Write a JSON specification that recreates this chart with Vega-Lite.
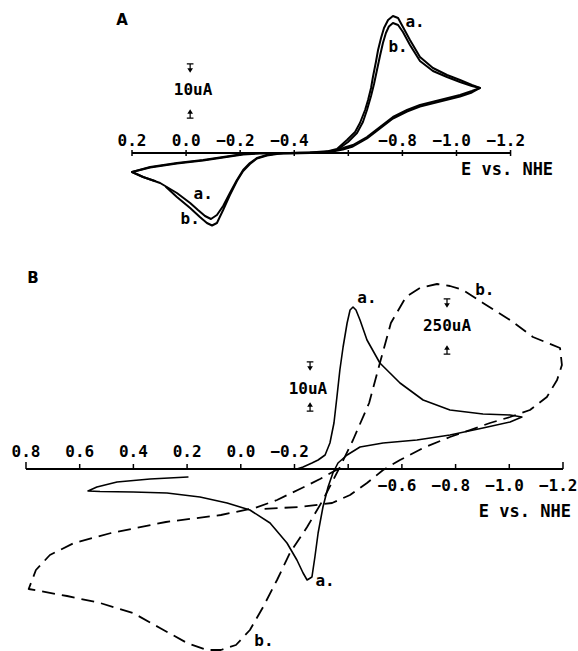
{
"$schema": "https://vega.github.io/schema/vega-lite/v6.json",
"width": 578, "height": 651, "autosize": {"type": "none"}, "padding": 0,
"background": "white",
"config": {"view": {"stroke": null}},
"datasets": {
"Acurve": [
{"c":"a","k":1,"E":-0.421,"I":0},{"c":"a","k":2,"E":-0.514,"I":0.2},{"c":"a","k":3,"E":-0.558,"I":0.8},{"c":"a","k":4,"E":-0.595,"I":2.6},{"c":"a","k":5,"E":-0.625,"I":4.2},{"c":"a","k":6,"E":-0.643,"I":6.0},{"c":"a","k":7,"E":-0.662,"I":8.6},{"c":"a","k":8,"E":-0.673,"I":10.6},{"c":"a","k":9,"E":-0.684,"I":13.0},{"c":"a","k":10,"E":-0.691,"I":15.2},{"c":"a","k":11,"E":-0.702,"I":18.2},{"c":"a","k":12,"E":-0.710,"I":20.6},{"c":"a","k":13,"E":-0.721,"I":23.0},{"c":"a","k":14,"E":-0.732,"I":25.0},{"c":"a","k":15,"E":-0.747,"I":26.6},{"c":"a","k":16,"E":-0.765,"I":27.4},{"c":"a","k":17,"E":-0.784,"I":27.0},{"c":"a","k":18,"E":-0.802,"I":25.2},{"c":"a","k":19,"E":-0.828,"I":22.6},{"c":"a","k":20,"E":-0.865,"I":19.2},{"c":"a","k":21,"E":-0.913,"I":17.0},{"c":"a","k":22,"E":-0.965,"I":15.6},{"c":"a","k":23,"E":-1.013,"I":14.6},{"c":"a","k":24,"E":-1.057,"I":13.6},{"c":"a","k":25,"E":-1.087,"I":13.0},{"c":"a","k":26,"E":-1.057,"I":12.4},{"c":"a","k":27,"E":-1.013,"I":11.6},{"c":"a","k":28,"E":-0.939,"I":10.6},{"c":"a","k":29,"E":-0.865,"I":9.6},{"c":"a","k":30,"E":-0.817,"I":8.6},{"c":"a","k":31,"E":-0.765,"I":7.2},{"c":"a","k":32,"E":-0.717,"I":5.2},{"c":"a","k":33,"E":-0.669,"I":3.2},{"c":"a","k":34,"E":-0.617,"I":1.6},{"c":"a","k":35,"E":-0.580,"I":1.0},{"c":"a","k":36,"E":-0.532,"I":0.4},{"c":"a","k":37,"E":-0.458,"I":0.1},{"c":"a","k":38,"E":-0.384,"I":0},{"c":"a","k":39,"E":-0.336,"I":-0.1},{"c":"a","k":40,"E":-0.299,"I":-0.4},{"c":"a","k":41,"E":-0.262,"I":-1.0},{"c":"a","k":42,"E":-0.236,"I":-2.0},{"c":"a","k":43,"E":-0.211,"I":-3.4},{"c":"a","k":44,"E":-0.188,"I":-5.4},{"c":"a","k":45,"E":-0.162,"I":-8.0},{"c":"a","k":46,"E":-0.137,"I":-10.6},{"c":"a","k":47,"E":-0.114,"I":-12.4},{"c":"a","k":48,"E":-0.092,"I":-13.2},{"c":"a","k":49,"E":-0.070,"I":-12.6},{"c":"a","k":50,"E":-0.044,"I":-11.4},{"c":"a","k":51,"E":-0.015,"I":-10.0},{"c":"a","k":52,"E":0.034,"I":-8.0},{"c":"a","k":53,"E":0.096,"I":-6.0},{"c":"a","k":54,"E":0.159,"I":-4.8},{"c":"a","k":55,"E":0.200,"I":-3.8},{"c":"a","k":56,"E":0.133,"I":-2.8},{"c":"a","k":57,"E":0.034,"I":-2.0},{"c":"a","k":58,"E":-0.063,"I":-1.4},{"c":"a","k":59,"E":-0.137,"I":-0.8},{"c":"a","k":60,"E":-0.211,"I":-0.2},{"c":"a","k":61,"E":-0.273,"I":0},{"c":"a","k":62,"E":-0.421,"I":0},
{"c":"b","k":1,"E":0.074,"I":-6.8},{"c":"b","k":2,"E":0.034,"I":-8.8},{"c":"b","k":3,"E":-0.015,"I":-11.0},{"c":"b","k":4,"E":-0.051,"I":-12.8},{"c":"b","k":5,"E":-0.077,"I":-14.0},{"c":"b","k":6,"E":-0.096,"I":-14.5},{"c":"b","k":7,"E":-0.114,"I":-14.0},{"c":"b","k":8,"E":-0.137,"I":-11.4},{"c":"b","k":9,"E":-0.162,"I":-8.4},{"c":"b","k":10,"E":-0.188,"I":-5.6},{"c":"b","k":11,"E":-0.211,"I":-3.6},{"c":"b","k":12,"E":-0.236,"I":-2.2},{"c":"b","k":13,"E":-0.262,"I":-1.1},{"c":"b","k":14,"E":-0.299,"I":-0.5},{"c":"b","k":15,"E":-0.336,"I":-0.2},{"c":"b","k":16,"E":-0.384,"I":0},{"c":"b","k":17,"E":-0.458,"I":0.1},{"c":"b","k":18,"E":-0.514,"I":0.2},{"c":"b","k":19,"E":-0.558,"I":0.6},{"c":"b","k":20,"E":-0.599,"I":2.2},{"c":"b","k":21,"E":-0.632,"I":4.0},{"c":"b","k":22,"E":-0.654,"I":6.2},{"c":"b","k":23,"E":-0.669,"I":8.6},{"c":"b","k":24,"E":-0.684,"I":11.4},{"c":"b","k":25,"E":-0.695,"I":13.8},{"c":"b","k":26,"E":-0.706,"I":16.6},{"c":"b","k":27,"E":-0.717,"I":19.4},{"c":"b","k":28,"E":-0.728,"I":22.0},{"c":"b","k":29,"E":-0.739,"I":24.0},{"c":"b","k":30,"E":-0.750,"I":25.3},{"c":"b","k":31,"E":-0.765,"I":26.0},{"c":"b","k":32,"E":-0.784,"I":25.6},{"c":"b","k":33,"E":-0.802,"I":24.2},{"c":"b","k":34,"E":-0.828,"I":21.6},{"c":"b","k":35,"E":-0.865,"I":18.4},{"c":"b","k":36,"E":-0.913,"I":16.4},{"c":"b","k":37,"E":-0.965,"I":15.2},{"c":"b","k":38,"E":-1.013,"I":14.2},{"c":"b","k":39,"E":-1.057,"I":13.4},{"c":"b","k":40,"E":-1.087,"I":13.0},{"c":"b","k":41,"E":-1.057,"I":12.1},{"c":"b","k":42,"E":-1.013,"I":11.3},{"c":"b","k":43,"E":-0.939,"I":10.3},{"c":"b","k":44,"E":-0.865,"I":9.3},{"c":"b","k":45,"E":-0.817,"I":8.3},{"c":"b","k":46,"E":-0.765,"I":6.9},{"c":"b","k":47,"E":-0.717,"I":4.9},{"c":"b","k":48,"E":-0.669,"I":2.9},{"c":"b","k":49,"E":-0.617,"I":1.3},{"c":"b","k":50,"E":-0.580,"I":0.7},{"c":"b","k":51,"E":-0.532,"I":0.2},{"c":"b","k":52,"E":-0.458,"I":0},{"c":"b","k":53,"E":-0.384,"I":-0.1},{"c":"b","k":54,"E":-0.273,"I":-0.1},{"c":"b","k":55,"E":-0.211,"I":-0.3},{"c":"b","k":56,"E":-0.137,"I":-0.9},{"c":"b","k":57,"E":-0.063,"I":-1.5},{"c":"b","k":58,"E":0.034,"I":-2.1},{"c":"b","k":59,"E":0.133,"I":-2.9},{"c":"b","k":60,"E":0.200,"I":-3.8},{"c":"b","k":61,"E":0.159,"I":-4.8},{"c":"b","k":62,"E":0.115,"I":-5.6}
],
"Bcurve": [
{"c":"a","k":1,"E":0.197,"I":-1.6},{"c":"a","k":2,"E":0.338,"I":-2.0},{"c":"a","k":3,"E":0.461,"I":-2.6},{"c":"a","k":4,"E":0.536,"I":-3.6},{"c":"a","k":5,"E":0.569,"I":-4.4},{"c":"a","k":6,"E":0.524,"I":-4.5},{"c":"a","k":7,"E":0.401,"I":-4.6},{"c":"a","k":8,"E":0.275,"I":-4.8},{"c":"a","k":9,"E":0.152,"I":-5.6},{"c":"a","k":10,"E":0.051,"I":-6.8},{"c":"a","k":11,"E":-0.034,"I":-8.2},{"c":"a","k":12,"E":-0.109,"I":-10.8},{"c":"a","k":13,"E":-0.172,"I":-14.8},{"c":"a","k":14,"E":-0.209,"I":-18.2},{"c":"a","k":15,"E":-0.232,"I":-20.8},{"c":"a","k":16,"E":-0.247,"I":-22.2},{"c":"a","k":17,"E":-0.265,"I":-21.6},{"c":"a","k":18,"E":-0.276,"I":-17.6},{"c":"a","k":19,"E":-0.288,"I":-12.8},{"c":"a","k":20,"E":-0.306,"I":-7.6},{"c":"a","k":21,"E":-0.325,"I":-3.6},{"c":"a","k":22,"E":-0.343,"I":-0.8},{"c":"a","k":23,"E":-0.362,"I":1.2},{"c":"a","k":24,"E":-0.396,"I":2.8},{"c":"a","k":25,"E":-0.444,"I":4.4},{"c":"a","k":26,"E":-0.530,"I":5.2},{"c":"a","k":27,"E":-0.656,"I":5.8},{"c":"a","k":28,"E":-0.779,"I":6.8},{"c":"a","k":29,"E":-0.902,"I":8.2},{"c":"a","k":30,"E":-1.003,"I":9.4},{"c":"a","k":31,"E":-1.047,"I":10.4},{"c":"a","k":32,"E":-1.003,"I":10.8},{"c":"a","k":33,"E":-0.902,"I":11.0},{"c":"a","k":34,"E":-0.779,"I":11.8},{"c":"a","k":35,"E":-0.679,"I":13.8},{"c":"a","k":36,"E":-0.593,"I":17.2},{"c":"a","k":37,"E":-0.518,"I":21.2},{"c":"a","k":38,"E":-0.470,"I":25.8},{"c":"a","k":39,"E":-0.444,"I":29.8},{"c":"a","k":40,"E":-0.429,"I":31.8},{"c":"a","k":41,"E":-0.418,"I":32.4},{"c":"a","k":42,"E":-0.407,"I":31.8},{"c":"a","k":43,"E":-0.396,"I":29.2},{"c":"a","k":44,"E":-0.381,"I":24.4},{"c":"a","k":45,"E":-0.369,"I":19.8},{"c":"a","k":46,"E":-0.358,"I":14.4},{"c":"a","k":47,"E":-0.347,"I":9.2},{"c":"a","k":48,"E":-0.332,"I":5.2},{"c":"a","k":49,"E":-0.314,"I":2.8},{"c":"a","k":50,"E":-0.288,"I":1.8},{"c":"a","k":51,"E":-0.265,"I":1.2},{"c":"a","k":52,"E":-0.232,"I":0.4},{"c":"a","k":53,"E":-0.209,"I":0},
{"c":"b","k":1,"E":-0.369,"I":0.2},{"c":"b","k":2,"E":-0.295,"I":-2.0},{"c":"b","k":3,"E":-0.220,"I":-4.0},{"c":"b","k":4,"E":-0.135,"I":-6.2},{"c":"b","k":5,"E":-0.053,"I":-7.8},{"c":"b","k":6,"E":0.074,"I":-9.2},{"c":"b","k":7,"E":0.279,"I":-10.6},{"c":"b","k":8,"E":0.483,"I":-12.8},{"c":"b","k":9,"E":0.621,"I":-14.8},{"c":"b","k":10,"E":0.711,"I":-17.2},{"c":"b","k":11,"E":0.763,"I":-20.2},{"c":"b","k":12,"E":0.790,"I":-24.0},{"c":"b","k":13,"E":0.647,"I":-25.4},{"c":"b","k":14,"E":0.524,"I":-26.8},{"c":"b","k":15,"E":0.401,"I":-28.8},{"c":"b","k":16,"E":0.301,"I":-31.8},{"c":"b","k":17,"E":0.200,"I":-34.8},{"c":"b","k":18,"E":0.126,"I":-36.2},{"c":"b","k":19,"E":0.074,"I":-36.2},{"c":"b","k":20,"E":0.018,"I":-35.2},{"c":"b","k":21,"E":-0.034,"I":-32.2},{"c":"b","k":22,"E":-0.083,"I":-27.6},{"c":"b","k":23,"E":-0.135,"I":-22.2},{"c":"b","k":24,"E":-0.183,"I":-16.8},{"c":"b","k":25,"E":-0.247,"I":-11.6},{"c":"b","k":26,"E":-0.306,"I":-6.2},{"c":"b","k":27,"E":-0.369,"I":0.4},{"c":"b","k":28,"E":-0.418,"I":5.8},{"c":"b","k":29,"E":-0.478,"I":13.2},{"c":"b","k":30,"E":-0.518,"I":21.2},{"c":"b","k":31,"E":-0.559,"I":29.2},{"c":"b","k":32,"E":-0.615,"I":34.4},{"c":"b","k":33,"E":-0.667,"I":36.2},{"c":"b","k":34,"E":-0.731,"I":37.0},{"c":"b","k":35,"E":-0.779,"I":36.6},{"c":"b","k":36,"E":-0.828,"I":35.8},{"c":"b","k":37,"E":-0.902,"I":33.2},{"c":"b","k":38,"E":-1.003,"I":29.8},{"c":"b","k":39,"E":-1.088,"I":26.4},{"c":"b","k":40,"E":-1.189,"I":24.2},{"c":"b","k":41,"E":-1.196,"I":20.8},{"c":"b","k":42,"E":-1.178,"I":17.8},{"c":"b","k":43,"E":-1.140,"I":14.4},{"c":"b","k":44,"E":-1.077,"I":11.8},{"c":"b","k":45,"E":-1.003,"I":10.4},{"c":"b","k":46,"E":-0.928,"I":9.2},{"c":"b","k":47,"E":-0.854,"I":7.8},{"c":"b","k":48,"E":-0.779,"I":6.4},{"c":"b","k":49,"E":-0.679,"I":4.2},{"c":"b","k":50,"E":-0.593,"I":1.8},{"c":"b","k":51,"E":-0.530,"I":-0.2},{"c":"b","k":52,"E":-0.470,"I":-2.8},{"c":"b","k":53,"E":-0.407,"I":-5.2},{"c":"b","k":54,"E":-0.340,"I":-6.8},{"c":"b","k":55,"E":-0.220,"I":-7.6},{"c":"b","k":56,"E":-0.072,"I":-8.0}
],
"Aaxis": [{"E":0.2,"E2":-1.2,"I":0}],
"Baxis": [{"E":0.8,"E2":-1.2,"I":0}],
"Aticks": [{"E":0.2,"t":"0.2","I":-0.6,"I2":0.6,"L":2.4},{"E":0.0,"t":"0.0","I":-0.6,"I2":0.6,"L":2.4},{"E":-0.2,"t":"−0.2","I":-0.6,"I2":0.6,"L":2.4},{"E":-0.4,"t":"−0.4","I":-0.6,"I2":0.6,"L":2.4},{"E":-0.6,"t":"","I":-0.6,"I2":0.6,"L":2.4},{"E":-0.8,"t":"−0.8","I":-0.6,"I2":0.6,"L":2.4},{"E":-1.0,"t":"−1.0","I":-0.6,"I2":0.6,"L":2.4},{"E":-1.2,"t":"−1.2","I":-0.6,"I2":0.6,"L":2.4}],
"Bticks": [{"E":0.8,"t":"0.8","I":0,"I2":1.4,"L":3.4},{"E":0.6,"t":"0.6","I":0,"I2":1.0,"L":3.4},{"E":0.4,"t":"0.4","I":0,"I2":1.0,"L":3.4},{"E":0.2,"t":"0.2","I":0,"I2":1.0,"L":3.4},{"E":0.0,"t":"0.0","I":0,"I2":1.0,"L":3.4},{"E":-0.2,"t":"−0.2","I":0,"I2":1.0,"L":3.4},{"E":-0.4,"t":"","I":0,"I2":1.0,"L":3.4},{"E":-0.6,"t":"−0.6","I":0,"I2":1.0,"L":-3.3},{"E":-0.8,"t":"−0.8","I":0,"I2":1.0,"L":-3.3},{"E":-1.0,"t":"−1.0","I":0,"I2":1.0,"L":-3.3},{"E":-1.2,"t":"−1.2","I":0,"I2":1.4,"L":-3.3}],
"Atext": [{"E":-0.847,"I":26.2,"t":"a."},{"E":-0.784,"I":21.2,"t":"b."},{"E":-0.063,"I":-8.2,"t":"a."},{"E":-0.015,"I":-13.2,"t":"b."},{"E":-0.026,"I":12.6,"t":"10uA"}],
"Alabel": [{"E":-1.187,"I":-3.4,"t":"E vs. NHE"}],
"Aarrow": [{"E":-0.015,"I":17.0,"d":"down"},{"E":-0.015,"I":7.8,"d":"up"}],
"Apanel": [{"E":0.237,"I":26.6,"t":"A"}],
"Btext": [{"E":-0.470,"I":34.2,"t":"a."},{"E":-0.909,"I":35.8,"t":"b."},{"E":-0.314,"I":-22.4,"t":"a."},{"E":-0.086,"I":-34.4,"t":"b."},{"E":-0.250,"I":16.0,"t":"10uA"},{"E":-0.768,"I":28.6,"t":"250uA"}],
"Blabel": [{"E":-1.058,"I":-8.6,"t":"E vs. NHE"}],
"Barrow": [{"E":-0.258,"I":20.6,"d":"down"},{"E":-0.258,"I":12.4,"d":"up"},{"E":-0.768,"I":33.2,"d":"down"},{"E":-0.768,"I":23.8,"d":"up"}],
"Bpanel": [{"E":0.774,"I":38.2,"t":"B"}]
},
"resolve": {"scale": {"x": "independent", "y": "independent"}},
"layer": [
{
"encoding": {
"x": {"field": "E", "type": "quantitative", "axis": null, "scale": {"domain": [-1.4494, 0.6882], "reverse": true, "nice": false, "zero": false}},
"y": {"field": "I", "type": "quantitative", "axis": null, "scale": {"domain": [-99.6, 30.6], "nice": false, "zero": false}}
},
"layer": [
{"data": {"name": "Aaxis"}, "mark": {"type": "rule", "color": "black", "strokeWidth": 2},
 "encoding": {"x2": {"field": "E2"}}},
{"data": {"name": "Aticks"}, "mark": {"type": "rule", "color": "black", "strokeWidth": 1.5},
 "encoding": {"y2": {"field": "I2"}}},
{"data": {"name": "Aticks"}, "mark": {"type": "text", "font": "DejaVu Sans Mono", "fontWeight": "bold", "fontSize": 16, "align": "right", "dx": 14.5, "baseline": "middle", "color": "black"},
 "encoding": {"y": {"field": "L", "type": "quantitative", "axis": null}, "text": {"field": "t"}}},
{"data": {"name": "Acurve"}, "mark": {"type": "line", "color": "black", "strokeWidth": 2, "strokeJoin": "round", "strokeCap": "round"},
 "encoding": {"detail": {"field": "c"}, "order": {"field": "k", "type": "quantitative"}}},
{"data": {"name": "Atext"}, "mark": {"type": "text", "font": "DejaVu Sans Mono", "fontWeight": "bold", "fontSize": 16, "align": "center", "baseline": "middle", "color": "black"},
 "encoding": {"text": {"field": "t"}}},
{"data": {"name": "Alabel"}, "mark": {"type": "text", "font": "DejaVu Sans Mono", "fontWeight": "bold", "fontSize": 17, "align": "center", "baseline": "middle", "color": "black"},
 "encoding": {"text": {"field": "t"}}},
{"data": {"name": "Aarrow"}, "mark": {"type": "point", "filled": true, "color": "black", "size": 90, "opacity": 1},
 "encoding": {"shape": {"field": "d", "type": "nominal", "legend": null, "scale": {"domain": ["down", "up"], "range": ["M-0.7,-1H0.7V-0.75H-0.7Z M-0.13,-0.75H0.13V0.1H-0.13Z M-0.6,0.05H0.6L0,1Z", "M-0.7,1H0.7V0.75H-0.7Z M-0.13,0.75H0.13V-0.1H-0.13Z M-0.6,-0.05H0.6L0,-1Z"]}}}},
{"data": {"name": "Apanel"}, "mark": {"type": "text", "font": "DejaVu Sans", "fontWeight": "bold", "fontSize": 15, "align": "center", "baseline": "middle", "color": "black"},
 "encoding": {"text": {"field": "t"}}}
]
},
{
"encoding": {
"x": {"field": "E", "type": "quantitative", "axis": null, "scale": {"domain": [-1.2559, 0.8968], "reverse": true, "nice": false, "zero": false}},
"y": {"field": "I", "type": "quantitative", "axis": null, "scale": {"domain": [-36.4, 93.8], "nice": false, "zero": false}}
},
"layer": [
{"data": {"name": "Baxis"}, "mark": {"type": "rule", "color": "black", "strokeWidth": 2},
 "encoding": {"x2": {"field": "E2"}}},
{"data": {"name": "Bticks"}, "mark": {"type": "rule", "color": "black", "strokeWidth": 1.5},
 "encoding": {"y2": {"field": "I2"}}},
{"data": {"name": "Bticks"}, "mark": {"type": "text", "font": "DejaVu Sans Mono", "fontWeight": "bold", "fontSize": 16, "align": "right", "dx": 14.5, "baseline": "middle", "color": "black"},
 "encoding": {"y": {"field": "L", "type": "quantitative", "axis": null}, "text": {"field": "t"}}},
{"data": {"name": "Bcurve"}, "transform": [{"filter": "datum.c === 'a'"}], "mark": {"type": "line", "color": "black", "strokeWidth": 1.6, "strokeJoin": "round", "strokeCap": "round"},
 "encoding": {"order": {"field": "k", "type": "quantitative"}}},
{"data": {"name": "Bcurve"}, "transform": [{"filter": "datum.c === 'b'"}], "mark": {"type": "line", "color": "black", "strokeWidth": 1.8, "strokeDash": [13, 7], "strokeJoin": "round"},
 "encoding": {"order": {"field": "k", "type": "quantitative"}}},
{"data": {"name": "Btext"}, "mark": {"type": "text", "font": "DejaVu Sans Mono", "fontWeight": "bold", "fontSize": 16, "align": "center", "baseline": "middle", "color": "black"},
 "encoding": {"text": {"field": "t"}}},
{"data": {"name": "Blabel"}, "mark": {"type": "text", "font": "DejaVu Sans Mono", "fontWeight": "bold", "fontSize": 17, "align": "center", "baseline": "middle", "color": "black"},
 "encoding": {"text": {"field": "t"}}},
{"data": {"name": "Barrow"}, "mark": {"type": "point", "filled": true, "color": "black", "size": 90, "opacity": 1},
 "encoding": {"shape": {"field": "d", "type": "nominal", "legend": null, "scale": {"domain": ["down", "up"], "range": ["M-0.7,-1H0.7V-0.75H-0.7Z M-0.13,-0.75H0.13V0.1H-0.13Z M-0.6,0.05H0.6L0,1Z", "M-0.7,1H0.7V0.75H-0.7Z M-0.13,0.75H0.13V-0.1H-0.13Z M-0.6,-0.05H0.6L0,-1Z"]}}}},
{"data": {"name": "Bpanel"}, "mark": {"type": "text", "font": "DejaVu Sans", "fontWeight": "bold", "fontSize": 15, "align": "center", "baseline": "middle", "color": "black"},
 "encoding": {"text": {"field": "t"}}}
]
}
]
}
